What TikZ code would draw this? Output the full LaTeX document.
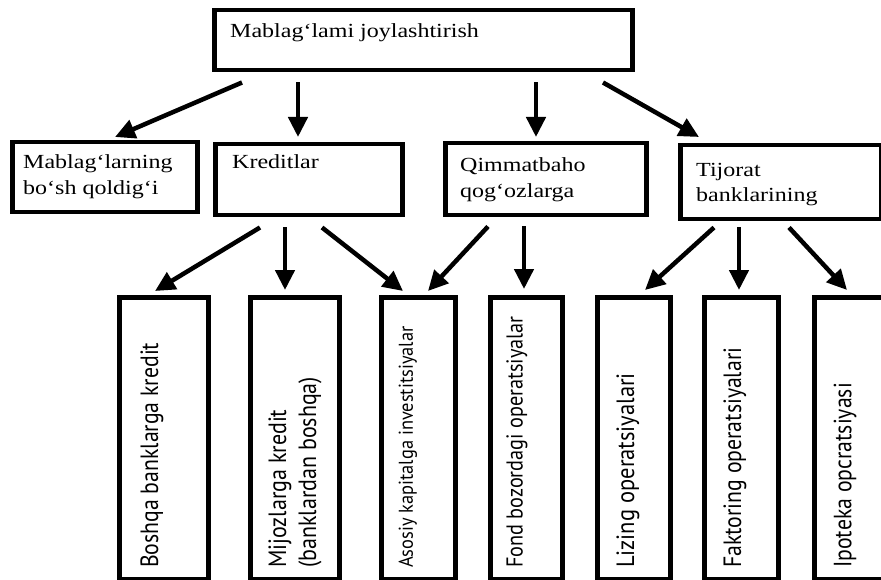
\documentclass[tikz,border=0pt]{standalone}
\usepackage{fontspec}
\usepackage{graphicx}
\setmainfont{Liberation Serif}
\newfontfamily\rotfont{PT Sans}
\usetikzlibrary{arrows.meta,calc}
\newcommand\sx[1]{\scalebox{1.2}[1]{#1}}
\newcommand\rt[3]{\scalebox{#2}[1]{\fontsize{#1}{#1}\selectfont\rotfont #3}}
\begin{document}
\begin{tikzpicture}[x=1pt,y=-1pt,
  box/.style={draw, line width=4.5pt, inner sep=0pt, anchor=north west},
  arr/.style={line width=4.5pt, -{Triangle[length=20pt,width=19pt]}},
  lbl/.style={anchor=base west, inner sep=0pt, font=\fontsize{20}{24}\selectfont},
  vt/.style={anchor=west, rotate=90, inner sep=0pt}]
\useasboundingbox (0,0) rectangle (881,580);
\clip (0,0) rectangle (881,580);
% top
\node[box, minimum width=418pt, minimum height=60pt] (T) at (212,8) {};
\node[lbl] (Tt) at (230,38) {\sx{Mablag`lami joylashtirish}};
% middle row
\node[box, minimum width=185pt, minimum height=70pt] (m1) at (10,140) {};
\node[lbl] (m1a) at (23,169) {\sx{Mablag`larning}};
\node[lbl] (m1b) at (23,195) {\sx{bo`sh qoldig`i}};
\node[box, minimum width=187pt, minimum height=71pt] (m2) at (213,142) {};
\node[lbl] (m2a) at (232,169) {\sx{Kreditlar}};
\node[box, minimum width=201pt, minimum height=72pt] (m3) at (443,141) {};
\node[lbl] (m3a) at (460,172) {\sx{Qimmatbaho}};
\node[lbl] (m3b) at (460,198) {\sx{qog`ozlarga}};
\node[box, minimum width=201pt, minimum height=74pt] (m4) at (678,143) {};
\node[lbl] (m4a) at (696,177) {\sx{Tijorat}};
\node[lbl] (m4b) at (696,202) {\sx{banklarining}};
% bottom row
\node[box, minimum width=89pt, minimum height=282pt] (b1) at (117,295) {};
\node[box, minimum width=89pt, minimum height=282pt] (b2) at (248,295) {};
\node[box, minimum width=74pt, minimum height=282pt] (b3) at (379,295) {};
\node[box, minimum width=72pt, minimum height=282pt] (b4) at (488,295) {};
\node[box, minimum width=73pt, minimum height=282pt] (b5) at (595,295) {};
\node[box, minimum width=74pt, minimum height=282pt] (b6) at (702,295) {};
\node[box, minimum width=100pt, minimum height=282pt] (b7) at (812,295) {};
\node[vt] (b1t) at (152,568) {\rt{25}{0.87}{Boshqa banklarga kredit}};
\node[vt] (b2t) at (280,568) {\rt{25}{0.88}{Mijozlarga kredit}};
\node[vt] (b2u) at (310,568) {\rt{25}{0.88}{(banklardan boshqa)}};
\node[vt] (b3t) at (408,568) {\rt{20}{0.92}{Asosiy kapitalga investitsiyalar}};
\node[vt] (b4t) at (517,568) {\rt{23}{0.88}{Fond bozordagi operatsiyalar}};
\node[vt] (b5t) at (628,568) {\rt{25}{0.90}{Lizing operatsiyalari}};
\node[vt] (b6t) at (735,568) {\rt{25}{0.87}{Faktoring operatsiyalari}};
\node[vt] (b7t) at (845,568) {\rt{25}{0.87}{Ipoteka opcratsiyasi}};
% arrows
\draw[arr] ([shift={(30,10)}]T.south west) -- ([shift={(105,-3)}]m1.north west);
\draw[arr] ([shift={(86,10)}]T.south west) -- ([shift={(85,-5)}]m2.north west);
\draw[arr] ([shift={(324,10)}]T.south west) -- ([shift={(93,-4)}]m3.north west);
\draw[arr] ([shift={(391,10)}]T.south west) -- ([shift={(21,-6)}]m4.north west);
\draw[arr] ([shift={(47,10)}]m2.south west) -- ([shift={(38,-4)}]b1.north west);
\draw[arr] ([shift={(72,10)}]m2.south west) -- ([shift={(37,-5)}]b2.north west);
\draw[arr] ([shift={(109,10)}]m2.south west) -- ([shift={(24,-4)}]b3.north west);
\draw[arr] ([shift={(45,9)}]m3.south west) -- ([shift={(49,-4)}]b3.north west);
\draw[arr] ([shift={(81,9)}]m3.south west) -- ([shift={(36,-6)}]b4.north west);
\draw[arr] ([shift={(36,6)}]m4.south west) -- ([shift={(50,-5)}]b5.north west);
\draw[arr] ([shift={(61,6)}]m4.south west) -- ([shift={(37,-5)}]b6.north west);
\draw[arr] ([shift={(111,6)}]m4.south west) -- ([shift={(35,-5)}]b7.north west);
\end{tikzpicture}
\end{document}
